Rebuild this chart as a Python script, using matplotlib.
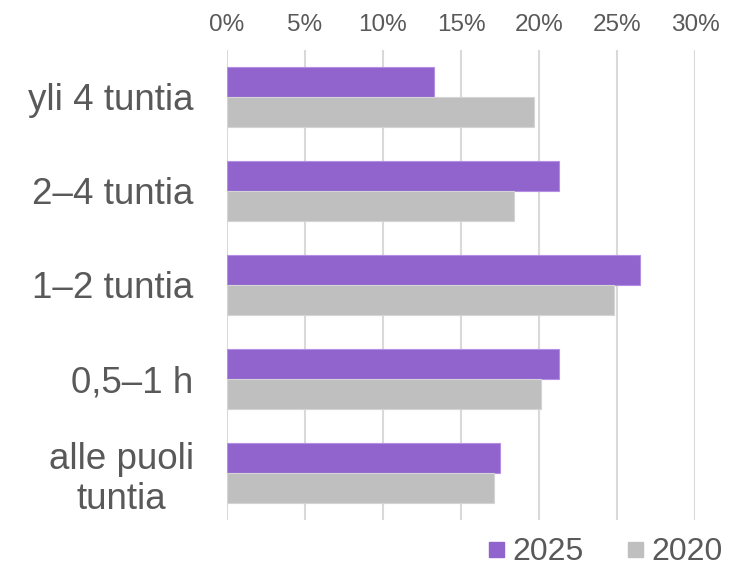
import numpy as np
import matplotlib.pyplot as plt
from matplotlib.lines import Line2D

plt.rcParams['font.family'] = ['Liberation Sans', 'DejaVu Sans']

# Daten
categories = ['yli 4 tuntia', '2–4 tuntia', '1–2 tuntia', '0,5–1 h', 'alle puoli\ntuntia']
v2025 = [13.3, 21.3, 26.5, 21.3, 17.5]
v2020 = [19.7, 18.4, 24.8, 20.1, 17.1]
xticks = [0, 5, 10, 15, 20, 25, 30]

color2025 = '#9063CD'
color2020 = '#BFBFBF'
textcol = '#595959'

fig = plt.figure(figsize=(7.43, 5.66), dpi=100)
ax = fig.add_axes([227/743, 1 - 520/566, (695 - 227)/743, (520 - 50)/566])

y = np.arange(len(categories))
h = 0.315
ax.barh(y - h/2, v2025, height=h, color=color2025, edgecolor='#B48FE3', linewidth=0.8, zorder=3)
ax.barh(y + h/2, v2020, height=h, color=color2020, edgecolor='#D4D4D4', linewidth=0.8, zorder=3)

ax.set_xlim(0, 30)
ax.set_ylim(len(categories) - 0.5, -0.5)
ax.set_xticks(xticks)
ax.set_xticklabels([f'{t}%' for t in xticks])
ax.xaxis.tick_top()
ax.set_yticks(y)
ax.set_yticklabels(categories)
for lbl in ax.get_yticklabels():
    lbl.set_multialignment('center')

ax.tick_params(axis='x', length=0, labelsize=17.5, labelcolor=textcol, pad=10)
ax.tick_params(axis='y', length=0, labelsize=26.5, labelcolor=textcol, pad=24)
ax.grid(axis='x', color='#D9D9D9', linewidth=1.5, zorder=0)
for s in ax.spines.values():
    s.set_visible(False)

handles = [Line2D([], [], marker='s', linestyle='', markersize=10.8, color=color2025),
           Line2D([], [], marker='s', linestyle='', markersize=10.8, color=color2020)]
fig.legend(handles, ['2025', '2020'], loc='center right', bbox_to_anchor=(723/743, 1 - 552/566),
           ncol=2, frameon=False, fontsize=23, handlelength=0.6, handletextpad=0.22,
           columnspacing=1.3, labelcolor=textcol, borderpad=0, borderaxespad=0)

plt.savefig('out.png', dpi=100)
